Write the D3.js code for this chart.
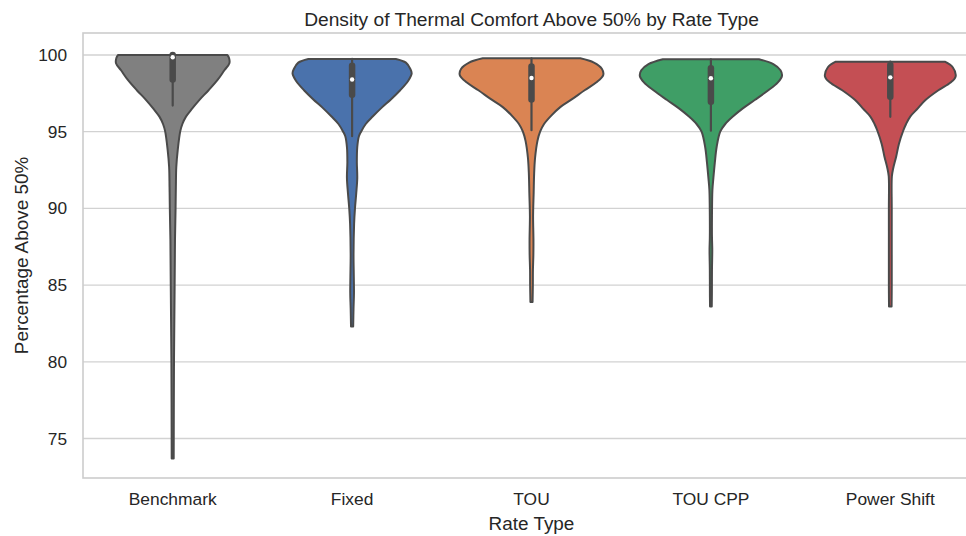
<!DOCTYPE html>
<html>
<head>
<meta charset="utf-8">
<script src="https://cdn.jsdelivr.net/npm/d3@7"></script>
<style>
  html, body { margin: 0; padding: 0; background: #ffffff; }
  svg { display: block; font-family: "Liberation Sans", Arial, Helvetica, sans-serif; }
</style>
</head>
<body>
<svg id="chart" width="966" height="536"></svg>
<script>
// ---------------- data ----------------
const categories = ["Benchmark", "Fixed", "TOU", "TOU CPP", "Power Shift"];
const yTicks = [75, 80, 85, 90, 95, 100];

// violin profiles: [value, relative density width]
const densityBenchmark = [
  [100.0, 0.76], [99.8, 0.785], [99.46, 0.79], [99.0, 0.72], [98.37, 0.625], [97.7, 0.5],
  [97.06, 0.37], [96.5, 0.27], [95.98, 0.185], [95.5, 0.135], [95.02, 0.105], [93.8, 0.07],
  [92.7, 0.05], [91.4, 0.044], [90.0, 0.04], [88.0, 0.032], [85.0, 0.027], [80.0, 0.018],
  [73.7, 0.014]
];
const densityFixed = [
  [99.74, 0.61], [99.5, 0.75], [99.1, 0.81], [98.8, 0.83], [98.3, 0.78], [97.7, 0.67],
  [97.1, 0.54], [96.6, 0.42], [96.0, 0.29], [95.5, 0.19], [95.0, 0.125], [94.7, 0.095],
  [94.0, 0.072], [93.0, 0.066], [92.0, 0.072], [91.0, 0.058], [90.0, 0.04], [89.0, 0.028],
  [87.0, 0.02], [85.5, 0.024], [84.5, 0.026], [83.5, 0.02], [82.3, 0.015]
];
const densityTOU = [
  [99.78, 0.68], [99.5, 0.87], [99.1, 0.98], [98.7, 1.0], [98.2, 0.9], [97.7, 0.74],
  [97.1, 0.56], [96.6, 0.4], [96.0, 0.265], [95.5, 0.175], [95.0, 0.12], [94.4, 0.083],
  [93.3, 0.05], [92.3, 0.037], [91.0, 0.03], [89.5, 0.022], [88.0, 0.027], [87.0, 0.026],
  [86.0, 0.02], [85.0, 0.019], [83.9, 0.015]
];
const densityTOUCPP = [
  [99.72, 0.67], [99.4, 0.87], [99.0, 0.97], [98.63, 0.99], [98.2, 0.93], [97.7, 0.8],
  [97.06, 0.61], [96.5, 0.44], [96.0, 0.31], [95.5, 0.2], [95.0, 0.13], [94.0, 0.08],
  [93.0, 0.055], [92.0, 0.035], [91.2, 0.021], [89.5, 0.015], [88.1, 0.015], [87.3, 0.019],
  [86.0, 0.015], [84.5, 0.014], [83.6, 0.012]
];
const densityPowerShift = [
  [99.56, 0.76], [99.2, 0.87], [98.59, 0.91], [98.2, 0.84], [97.7, 0.67], [97.06, 0.49],
  [96.5, 0.38], [96.0, 0.28], [95.5, 0.22], [95.06, 0.18], [94.2, 0.12], [93.4, 0.083],
  [92.6, 0.04], [92.1, 0.022], [90.0, 0.02], [87.0, 0.02], [85.0, 0.02], [83.6, 0.018]
];
const densities = [densityBenchmark, densityFixed, densityTOU, densityTOUCPP, densityPowerShift];

// inner box statistics
const whiskerLow  = [96.7, 94.7, 95.1, 95.06, 95.97];
const quartile1   = [98.4, 97.4, 97.1, 96.95, 97.28];
const medians     = [99.85, 98.4, 98.5, 98.48, 98.54];
const quartile3   = [100.0, 99.3, 99.24, 99.13, 99.35];
const whiskerHigh = [100.0, 99.74, 99.78, 99.72, 99.56];

// ---------------- style ----------------
const fillColors = ["#808080", "#4a72ac", "#da8453", "#3f9e66", "#c44f54"];
const edgeColor = "#4a4a4a";
const textColor = "#262626";
const gridColor = "#d2d2d2";

const margin = { left: 83, top: 33, right: 980, bottom: 478 };

const svg = d3.select("#chart");

const x = d3.scaleBand().domain(categories).range([margin.left, margin.right]).paddingInner(0).paddingOuter(0);
const y = d3.scaleLinear().domain([72.43, 101.43]).range([margin.bottom, margin.top]);
const halfW = d3.scaleLinear().domain([0, 1]).range([0, x.bandwidth() * 0.4]);

// grid lines
svg.append("g").selectAll("line").data(yTicks).join("line")
  .attr("x1", margin.left).attr("x2", margin.right)
  .attr("y1", d => y(d)).attr("y2", d => y(d))
  .attr("stroke", gridColor).attr("stroke-width", 1.4);

// spines
svg.append("rect")
  .attr("x", margin.left).attr("y", margin.top)
  .attr("width", margin.right - margin.left).attr("height", margin.bottom - margin.top)
  .attr("fill", "none").attr("stroke", "#cccccc").attr("stroke-width", 1.6);

// y axis labels
const yAxis = d3.axisLeft(y).tickValues(yTicks).tickSize(0).tickPadding(16).tickFormat(d3.format("d"));
const gy = svg.append("g").attr("transform", `translate(${margin.left},0)`).call(yAxis);
gy.select(".domain").remove();
gy.selectAll("text").attr("font-size", 17.3).attr("fill", textColor)
  .attr("font-family", "Liberation Sans, Arial, sans-serif");

// x axis labels
const xAxis = d3.axisBottom(x).tickSize(0).tickPadding(15);
const gx = svg.append("g").attr("transform", `translate(0,${margin.bottom})`).call(xAxis);
gx.select(".domain").remove();
gx.selectAll("text").attr("font-size", 17.4).attr("fill", textColor)
  .attr("font-family", "Liberation Sans, Arial, sans-serif");

// violins
categories.forEach((cat, i) => {
  const cx = x(cat) + x.bandwidth() / 2;
  const a = d3.area()
    .curve(d3.curveCatmullRom.alpha(0.5))
    .y(d => y(d[0]))
    .x0(d => cx - halfW(d[1]))
    .x1(d => cx + halfW(d[1]));
  svg.append("path")
    .attr("d", a(densities[i]))
    .attr("fill", fillColors[i])
    .attr("stroke", edgeColor)
    .attr("stroke-width", 2)
    .attr("stroke-linejoin", "round");

  // whisker
  svg.append("line")
    .attr("x1", cx).attr("x2", cx)
    .attr("y1", y(whiskerLow[i])).attr("y2", y(whiskerHigh[i]))
    .attr("stroke", edgeColor).attr("stroke-width", 2.2).attr("stroke-linecap", "round");
  // box
  svg.append("line")
    .attr("x1", cx).attr("x2", cx)
    .attr("y1", y(quartile1[i])).attr("y2", y(quartile3[i]))
    .attr("stroke", edgeColor).attr("stroke-width", 6.5).attr("stroke-linecap", "round");
  // median
  svg.append("circle")
    .attr("cx", cx).attr("cy", y(medians[i])).attr("r", 2.2)
    .attr("fill", "#ffffff");
});

// title
svg.append("text")
  .attr("x", (margin.left + margin.right) / 2).attr("y", 25.5)
  .attr("text-anchor", "middle").attr("font-size", 19.2).attr("fill", textColor)
  .text("Density of Thermal Comfort Above 50% by Rate Type");

// axis titles
svg.append("text")
  .attr("x", (margin.left + margin.right) / 2).attr("y", 530)
  .attr("text-anchor", "middle").attr("font-size", 18.9).attr("fill", textColor)
  .text("Rate Type");

svg.append("text")
  .attr("transform", `translate(27.5,${(margin.top + margin.bottom) / 2}) rotate(-90)`)
  .attr("text-anchor", "middle").attr("font-size", 18.9).attr("fill", textColor)
  .text("Percentage Above 50%");
</script>
</body>
</html>
